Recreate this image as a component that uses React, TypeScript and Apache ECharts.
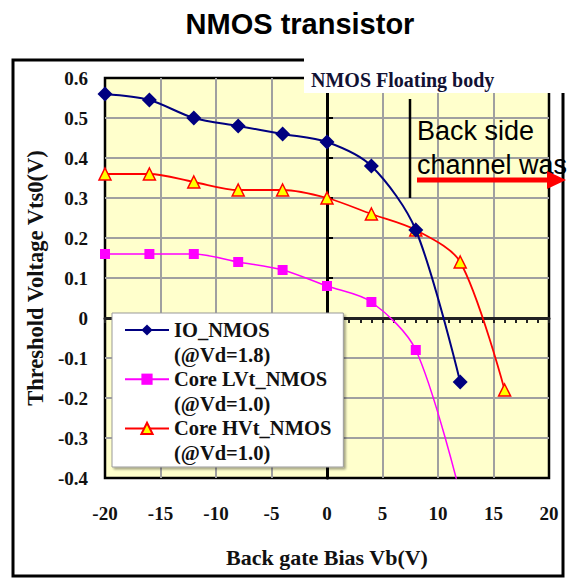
import React, { useEffect, useRef } from "react";
import * as echarts from "echarts";

// Back gate bias (V) and threshold voltage (V) per device
const vbIO = [-20, -16, -12, -8, -4, 0, 4, 8, 12];
const vtIO = [0.56, 0.545, 0.5, 0.48, 0.46, 0.44, 0.38, 0.22, -0.16];
const vbLVt = [-20, -16, -12, -8, -4, 0, 4, 8, 12];
const vtLVt = [0.16, 0.16, 0.16, 0.14, 0.12, 0.08, 0.04, -0.08, -0.44];
const vbHVt = [-20, -16, -12, -8, -4, 0, 4, 8, 12, 16];
const vtHVt = [0.36, 0.36, 0.34, 0.32, 0.32, 0.3, 0.26, 0.22, 0.14, -0.18];

const seriesNames = ["IO_NMOS", "Core LVt_NMOS", "Core HVt_NMOS"];
const conditions = ["(@Vd=1.8)", "(@Vd=1.0)", "(@Vd=1.0)"];
const condKeys = ["cond0", "cond1", "cond2"];

const xMin = -20, xMax = 20, xStep = 5;
const yMin = -0.4, yMax = 0.6, yStep = 0.1;

const serif = "'Liberation Serif', 'Times New Roman', serif";
const sans = "'Liberation Sans', Arial, sans-serif";

const zip = (xs: number[], ys: number[]) => xs.map((x, i) => [x, ys[i]]);

export default function App() {
  const ref = useRef<HTMLDivElement>(null);
  useEffect(() => {
    if (!ref.current) return;
    const chart = echarts.init(ref.current, undefined, { renderer: "svg" });
    const gridLine = { show: true, showMinLine: false, showMaxLine: false, lineStyle: { color: "#a0a0a0", width: 2 } };
    const legendData: any[] = [];
    seriesNames.forEach((n, i) => {
      legendData.push({ name: n });
      legendData.push({ name: condKeys[i], icon: "none" });
    });
    chart.setOption({
      animation: false,
      title: {
        text: "NMOS transistor",
        left: 295,
        top: 4,
        textAlign: "center",
        textStyle: { fontFamily: sans, fontSize: 29, fontWeight: "bold", color: "#000" },
      },
      grid: {
        left: 105, top: 78, width: 444, height: 400,
        show: true, backgroundColor: "#FFFFCC", borderColor: "#000", borderWidth: 2.5,
      },
      legend: {
        orient: "vertical",
        left: 112, top: 313,
        data: legendData,
        selectedMode: false,
        itemWidth: 44, itemHeight: 14, itemGap: 0.6,
        padding: [5, 12, 2, 12],
        backgroundColor: "#fff",
        borderColor: "#9a9a9a", borderWidth: 1,
        shadowColor: "rgba(0,0,0,0.35)", shadowOffsetX: 2, shadowOffsetY: 2, shadowBlur: 2,
        formatter: (name: string) => {
          const k = condKeys.indexOf(name);
          return k >= 0 ? conditions[k] : name;
        },
        textStyle: { fontFamily: serif, fontSize: 20.5, fontWeight: "bold", color: "#111", lineHeight: 24 },
        z: 20,
      },
      xAxis: [
        {
          type: "value", min: xMin, max: xMax, interval: xStep, position: "bottom",
          axisLine: { show: false, onZero: false }, axisTick: { show: false },
          axisLabel: { margin: 26, fontFamily: serif, fontSize: 19, fontWeight: "bold", color: "#111" },
          splitLine: gridLine,
          name: "Back gate Bias Vb(V)", nameLocation: "middle", nameGap: 68,
          nameTextStyle: { fontFamily: serif, fontSize: 22, fontWeight: "bold", color: "#111" },
        },
        {
          type: "value", min: xMin, max: xMax, interval: 1, position: "top",
          axisLine: { show: true, onZero: true, onZeroAxisIndex: 0, lineStyle: { color: "#222", width: 3 } },
          axisTick: { show: true, inside: true, length: 5, lineStyle: { color: "#222", width: 2 } },
          axisLabel: { show: false }, splitLine: { show: false },
        },
      ],
      yAxis: [
        {
          type: "value", min: yMin, max: yMax, interval: yStep, position: "left",
          axisLine: { show: false, onZero: false }, axisTick: { show: false },
          axisLabel: { margin: 17, fontFamily: serif, fontSize: 19, fontWeight: "bold", color: "#111" },
          splitLine: gridLine,
          name: "Threshold Voltage Vts0(V)", nameLocation: "middle", nameGap: 57,
          nameTextStyle: { fontFamily: serif, fontSize: 22.5, fontWeight: "bold", color: "#111" },
        },
        {
          type: "value", min: yMin, max: yMax, interval: yStep, position: "right",
          axisLine: { show: true, onZero: true, onZeroAxisIndex: 0, lineStyle: { color: "#000", width: 3 } },
          axisTick: { show: true, length: 6, lineStyle: { color: "#000", width: 2 } },
          axisLabel: { show: false }, splitLine: { show: false },
        },
      ],
      series: [
        {
          name: seriesNames[0], type: "line", data: zip(vbIO, vtIO), smooth: 0.3,
          symbol: "diamond", symbolSize: 15,
          itemStyle: { color: "#000080" }, lineStyle: { color: "#000080", width: 2 }, z: 5,
        },
        {
          name: seriesNames[1], type: "line", data: zip(vbLVt, vtLVt), smooth: 0.3,
          symbol: "rect", symbolSize: 10,
          itemStyle: { color: "#FF00FF" }, lineStyle: { color: "#FF00FF", width: 1.5 }, z: 4,
        },
        {
          name: seriesNames[2], type: "line", data: zip(vbHVt, vtHVt), smooth: 0.3,
          symbol: "triangle", symbolSize: 12,
          itemStyle: { color: "#FFFF00", borderColor: "#FF0000", borderWidth: 1.5 },
          lineStyle: { color: "#FF0000", width: 1.8 }, z: 4,
        },
        ...condKeys.map((k) => ({ name: k, type: "scatter", data: [] })),
      ],
      graphic: [
        { type: "rect", shape: { x: 13, y: 60, width: 550, height: 516 }, style: { fill: "none", stroke: "#000", lineWidth: 3 }, z: 1 },
        { type: "rect", shape: { x: 304, y: 52, width: 264, height: 41 }, style: { fill: "#fff" }, z: 100 },
        { type: "text", x: 311, y: 80, style: { text: "NMOS Floating body", fontFamily: serif, fontSize: 20, fontWeight: "bold", fill: "#111133", verticalAlign: "middle" }, z: 101 },
        { type: "line", shape: { x1: 410, y1: 99, x2: 410, y2: 198 }, style: { stroke: "#000", lineWidth: 2.5 }, z: 30 },
        { type: "text", x: 417, y: 117, style: { text: "Back side", fontFamily: sans, fontSize: 27, fill: "#000", verticalAlign: "alphabetic" }, z: 30 },
        { type: "text", x: 417, y: 151, style: { text: "channel was", fontFamily: sans, fontSize: 27, fill: "#000", verticalAlign: "alphabetic" }, z: 30 },
        { type: "line", shape: { x1: 417, y1: 180, x2: 550, y2: 180 }, style: { stroke: "#FF0000", lineWidth: 5 }, z: 30 },
        { type: "polygon", shape: { points: [[547, 171], [566, 180], [547, 189]] }, style: { fill: "#FF0000" }, z: 30 },
      ],
    });
    return () => chart.dispose();
  }, []);
  return <div ref={ref} style={{ position: "absolute", left: 0, top: 0, width: 568, height: 578 }} />;
}
